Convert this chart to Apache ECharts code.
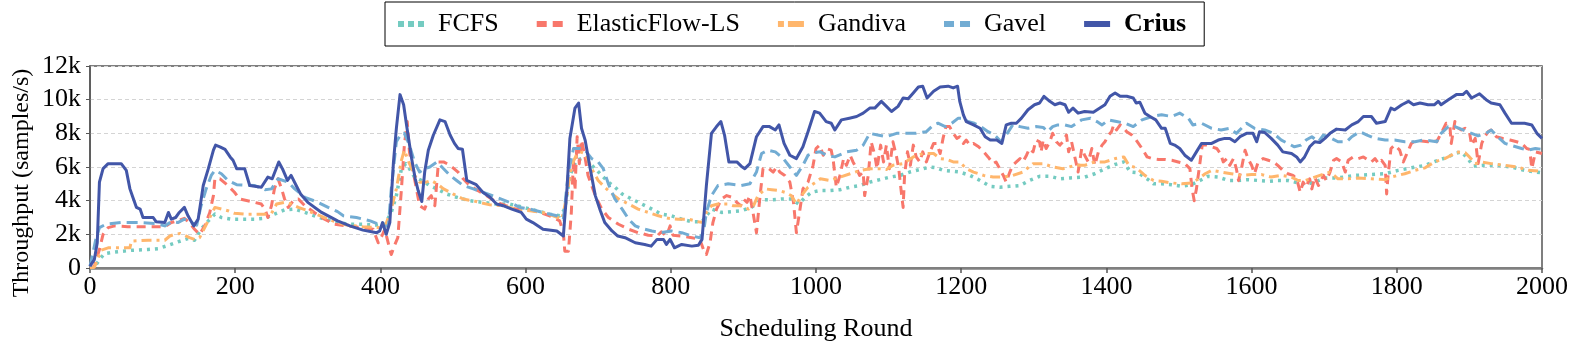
<!DOCTYPE html>
<html>
<head>
<meta charset="utf-8">
<script src="https://cdn.jsdelivr.net/npm/echarts@6/dist/echarts.min.js"></script>
<style>
html,body{margin:0;padding:0;background:#fff;}
#chart{width:1578px;height:354px;}
</style>
</head>
<body>
<div id="chart"></div>
<script>
// Throughput in thousands of samples/s, as [scheduling round, value]
const seriesNames = ['FCFS', 'ElasticFlow-LS', 'Gandiva', 'Gavel', 'Crius'];
const yTickLabels = ['0', '2k', '4k', '6k', '8k', '10k', '12k'];
const xTicks = [0, 200, 400, 600, 800, 1000, 1200, 1400, 1600, 1800, 2000];

const fcfs = [[0,0],[6,0.05],[15,0.6],[20,0.85],[34,0.95],[57,1.05],[80,1.1],[94,1.15],[108,1.35],[121,1.55],[135,1.75],[144,1.65],[153,2.3],[163,2.8],[172,3.2],[181,3.0],[195,2.9],[213,2.9],[227,2.9],[241,2.95],[254,3.2],[268,3.45],[282,3.5],[296,3.3],[309,3.1],[323,2.9],[341,2.75],[354,2.6],[376,2.6],[395,2.55],[406,2.6],[415,3.3],[422,4.3],[429,5.9],[435,6.2],[440,5.9],[447,5.4],[457,5.2],[468,4.9],[478,4.7],[491,4.4],[505,4.2],[523,4.0],[541,3.9],[560,3.8],[578,3.8],[597,3.6],[615,3.4],[633,3.2],[647,3.1],[654,3.5],[661,5.5],[670,6.4],[677,6.5],[686,6.3],[696,5.9],[705,5.5],[714,5.1],[723,4.8],[733,4.4],[746,4.1],[760,3.8],[774,3.5],[787,3.2],[801,3.1],[815,2.9],[829,2.75],[843,2.75],[849,3.1],[856,3.5],[870,3.3],[884,3.35],[897,3.4],[911,3.6],[925,4.05],[939,4.05],[953,4.1],[966,4.1],[976,3.8],[985,4.2],[994,4.5],[1005,4.6],[1019,4.6],[1033,4.65],[1047,4.8],[1061,4.9],[1074,5.1],[1088,5.25],[1102,5.4],[1116,5.5],[1129,5.7],[1143,5.85],[1157,6.0],[1166,5.95],[1175,5.8],[1187,5.75],[1198,5.7],[1212,5.5],[1226,5.2],[1240,4.85],[1253,4.8],[1267,4.85],[1281,4.9],[1294,5.2],[1308,5.45],[1322,5.45],[1336,5.3],[1350,5.35],[1370,5.4],[1384,5.6],[1398,5.9],[1412,6.15],[1424,6.3],[1433,5.7],[1444,5.65],[1456,5.3],[1465,5.0],[1476,5.0],[1490,4.95],[1504,4.85],[1517,4.95],[1529,5.2],[1540,5.45],[1554,5.4],[1568,5.2],[1581,5.2],[1595,5.25],[1609,5.2],[1623,5.15],[1636,5.2],[1650,5.2],[1664,5.05],[1673,4.95],[1687,5.1],[1701,5.35],[1719,5.35],[1742,5.5],[1765,5.55],[1784,5.6],[1802,5.8],[1820,5.95],[1839,6.1],[1857,6.4],[1871,6.6],[1880,6.8],[1889,6.9],[1898,6.5],[1905,6.05],[1921,6.1],[1939,6.1],[1958,6.0],[1976,5.8],[2000,5.65]];

const elasticFlow = [[0,0],[6,0.1],[13,1.1],[18,2.0],[25,2.4],[34,2.5],[52,2.45],[71,2.45],[89,2.45],[103,2.45],[112,2.7],[121,2.8],[130,2.95],[137,2.7],[144,2.3],[151,2.0],[158,2.5],[165,3.3],[170,4.3],[172,5.3],[179,5.3],[190,4.9],[199,4.5],[206,4.1],[222,3.95],[236,3.8],[241,3.5],[245,3.0],[250,3.7],[254,4.7],[259,5.3],[264,4.7],[268,4.1],[273,3.6],[280,4.0],[287,4.1],[296,3.7],[309,3.3],[323,2.9],[337,2.6],[354,2.5],[376,2.4],[390,2.3],[397,1.5],[402,1.9],[406,2.3],[413,1.1],[415,0.8],[420,1.4],[424,1.8],[429,4.7],[433,7.3],[437,8.7],[440,6.9],[447,5.3],[454,3.7],[461,3.5],[466,4.1],[470,4.3],[475,3.7],[480,6.3],[487,6.3],[496,6.1],[507,5.7],[514,5.3],[523,4.9],[534,4.6],[546,4.3],[560,3.9],[573,3.7],[587,3.5],[601,3.5],[620,3.3],[633,3.1],[647,2.8],[652,2.1],[654,1.0],[659,1.0],[663,3.3],[666,6.5],[668,4.6],[671,7.8],[674,6.2],[677,7.6],[681,6.8],[686,5.5],[696,4.3],[705,3.5],[714,3.0],[728,2.6],[742,2.3],[755,2.1],[769,1.95],[781,1.9],[787,2.15],[794,1.9],[799,2.5],[803,1.95],[815,1.9],[829,1.8],[840,1.7],[845,1.1],[849,0.8],[854,1.5],[858,2.7],[863,3.5],[870,4.1],[877,4.3],[884,4.2],[891,3.9],[896,3.7],[900,4.1],[905,3.9],[909,4.3],[914,3.1],[918,2.1],[923,4.3],[927,5.9],[934,5.95],[941,5.7],[946,6.0],[950,5.7],[957,5.5],[964,5.1],[969,3.9],[973,2.1],[978,3.5],[982,4.7],[989,5.1],[996,6.1],[1000,7.1],[1005,7.3],[1010,6.7],[1014,7.1],[1021,7.0],[1024,6.3],[1028,4.8],[1033,5.5],[1038,6.5],[1042,6.1],[1047,6.7],[1051,6.3],[1056,5.9],[1060,5.5],[1065,5.7],[1067,4.3],[1072,5.5],[1076,7.5],[1081,6.7],[1084,5.9],[1089,7.3],[1093,6.3],[1097,7.3],[1101,5.9],[1106,7.5],[1111,6.6],[1114,5.9],[1117,4.7],[1120,3.6],[1122,5.5],[1126,6.9],[1130,6.1],[1134,7.3],[1138,6.6],[1143,6.3],[1147,6.9],[1152,6.3],[1157,6.9],[1162,7.4],[1166,7.4],[1171,6.8],[1175,7.7],[1179,8.4],[1184,8.4],[1189,8.0],[1194,7.7],[1198,7.8],[1203,7.4],[1207,7.6],[1212,7.3],[1217,7.4],[1224,7.2],[1231,6.9],[1237,6.6],[1244,6.2],[1248,6.3],[1253,5.9],[1258,5.5],[1262,5.1],[1267,5.7],[1271,6.1],[1276,6.3],[1281,6.5],[1285,6.3],[1290,6.7],[1294,7.1],[1299,6.9],[1303,7.6],[1308,7.5],[1310,6.9],[1313,7.6],[1317,7.1],[1322,7.5],[1326,8.0],[1331,7.5],[1336,7.3],[1340,7.5],[1345,7.9],[1348,6.9],[1352,7.5],[1357,6.5],[1361,5.7],[1366,7.1],[1370,6.7],[1375,6.3],[1380,7.1],[1384,6.1],[1389,6.9],[1394,7.3],[1398,7.5],[1403,7.9],[1407,8.1],[1410,8.5],[1414,8.2],[1419,8.5],[1424,8.3],[1428,8.1],[1435,7.9],[1441,7.6],[1449,7.1],[1456,6.6],[1463,6.5],[1472,6.45],[1481,6.45],[1490,6.4],[1499,6.3],[1508,6.2],[1515,5.9],[1518,4.7],[1521,4.0],[1524,4.7],[1529,6.3],[1532,7.3],[1538,7.3],[1545,7.2],[1552,7.1],[1557,6.8],[1561,6.3],[1566,6.5],[1570,6.1],[1575,6.5],[1579,5.9],[1582,5.2],[1586,5.9],[1591,7.0],[1595,6.5],[1600,6.1],[1604,5.6],[1609,6.3],[1616,6.5],[1623,6.4],[1630,6.3],[1636,6.1],[1643,5.8],[1650,5.6],[1657,5.5],[1662,5.3],[1667,4.5],[1671,5.1],[1675,4.8],[1680,5.3],[1683,4.7],[1687,5.4],[1692,4.9],[1699,5.5],[1703,5.2],[1708,5.7],[1713,6.4],[1717,6.5],[1724,6.3],[1729,5.7],[1733,6.4],[1740,6.6],[1747,6.5],[1754,6.6],[1761,6.4],[1765,6.3],[1770,6.5],[1775,6.2],[1779,6.4],[1784,6.1],[1786,4.4],[1788,5.5],[1792,7.1],[1797,7.3],[1804,7.0],[1809,6.3],[1813,6.7],[1820,7.4],[1827,7.6],[1834,7.55],[1843,7.5],[1850,7.6],[1855,7.5],[1861,8.0],[1868,8.6],[1873,8.5],[1875,7.4],[1880,8.7],[1885,8.3],[1889,8.2],[1894,8.3],[1900,8.1],[1903,7.3],[1908,7.7],[1912,6.2],[1917,7.4],[1921,7.8],[1926,8.1],[1930,8.2],[1937,7.8],[1946,7.7],[1956,7.6],[1965,7.5],[1972,7.4],[1979,7.1],[1983,7.05],[1986,5.9],[1991,6.9],[2000,6.8]];

const gandiva = [[0,0],[6,0.05],[10,0.45],[15,1.05],[25,1.2],[43,1.2],[55,1.2],[57,1.6],[80,1.65],[103,1.65],[110,1.9],[117,2.0],[124,2.05],[130,1.95],[137,1.8],[144,1.7],[151,1.8],[158,2.4],[165,3.0],[172,3.6],[181,3.5],[190,3.4],[199,3.25],[213,3.2],[227,3.2],[241,3.2],[250,3.25],[257,3.8],[268,3.9],[277,3.8],[287,3.6],[300,3.4],[314,3.15],[328,2.9],[341,2.7],[354,2.55],[376,2.45],[395,2.4],[406,2.4],[415,3.5],[422,4.7],[429,6.4],[433,7.0],[439,6.3],[447,5.5],[454,5.1],[463,5.1],[470,5.2],[478,5.0],[487,4.7],[500,4.4],[514,4.1],[532,3.95],[551,3.75],[569,3.7],[587,3.5],[606,3.4],[624,3.3],[638,3.1],[650,2.9],[657,4.3],[663,6.1],[670,6.7],[675,6.9],[682,6.8],[691,5.9],[700,5.2],[709,4.8],[719,4.4],[728,4.1],[742,3.8],[755,3.5],[769,3.3],[783,3.1],[797,2.95],[810,2.9],[824,2.9],[838,2.75],[845,2.7],[849,3.3],[856,3.7],[865,3.8],[879,3.8],[886,3.7],[897,3.7],[907,3.5],[914,3.7],[920,4.3],[930,4.7],[939,4.65],[949,4.6],[957,4.5],[966,4.3],[973,3.8],[980,4.3],[989,4.8],[998,5.05],[1006,5.3],[1019,5.2],[1033,5.4],[1047,5.6],[1061,5.8],[1074,5.9],[1088,5.9],[1097,5.85],[1106,6.1],[1120,6.2],[1134,6.6],[1147,6.8],[1162,6.8],[1171,6.5],[1180,6.45],[1189,6.3],[1198,6.3],[1207,5.9],[1217,5.7],[1231,5.5],[1244,5.4],[1258,5.4],[1271,5.5],[1285,5.7],[1299,6.2],[1313,6.2],[1326,6.0],[1340,5.9],[1357,6.1],[1370,6.1],[1384,6.3],[1398,6.3],[1412,6.5],[1424,6.6],[1431,6.1],[1441,5.95],[1453,5.5],[1465,5.2],[1476,5.15],[1490,5.05],[1504,5.0],[1517,5.05],[1527,5.3],[1536,5.6],[1545,5.8],[1558,5.7],[1572,5.6],[1586,5.5],[1600,5.55],[1614,5.55],[1627,5.4],[1641,5.5],[1655,5.4],[1664,5.2],[1674,5.2],[1687,5.4],[1701,5.6],[1708,5.7],[1719,5.3],[1733,5.3],[1747,5.35],[1765,5.3],[1784,5.25],[1792,5.4],[1811,5.6],[1825,5.8],[1839,5.95],[1852,6.3],[1866,6.5],[1875,6.7],[1882,6.9],[1894,6.85],[1900,6.6],[1908,6.2],[1917,6.3],[1930,6.2],[1949,6.1],[1967,6.0],[1981,5.8],[2000,5.75]];

const gavel = [[0,0.1],[8,1.7],[13,2.4],[22,2.6],[43,2.7],[66,2.7],[89,2.65],[103,2.5],[112,2.75],[121,2.7],[130,2.9],[140,2.7],[147,2.55],[153,3.7],[160,4.7],[167,5.5],[172,5.8],[181,5.6],[190,5.2],[202,4.95],[227,4.9],[241,4.65],[250,4.7],[259,5.3],[273,5.1],[282,4.7],[296,4.2],[314,3.9],[328,3.6],[341,3.35],[349,3.1],[367,3.0],[386,2.8],[397,2.6],[404,2.5],[411,2.5],[415,4.7],[422,7.5],[429,8.0],[433,8.0],[440,7.3],[447,6.3],[454,5.7],[461,5.9],[468,6.0],[478,6.3],[487,5.9],[496,5.5],[505,5.2],[514,4.9],[528,4.7],[541,4.5],[560,4.2],[578,3.9],[592,3.6],[606,3.5],[624,3.3],[643,3.1],[652,2.9],[659,5.7],[666,7.1],[675,7.1],[682,7.0],[691,6.5],[700,6.3],[707,5.9],[714,5.0],[723,4.1],[733,3.5],[742,2.9],[751,2.5],[760,2.35],[774,2.2],[787,2.1],[801,2.2],[815,2.1],[829,1.9],[840,1.8],[845,2.1],[849,3.3],[856,4.3],[865,4.9],[879,5.0],[897,4.9],[909,5.0],[918,5.7],[925,6.8],[934,7.0],[944,6.9],[955,6.5],[964,6.0],[973,5.5],[982,6.1],[989,6.7],[998,6.85],[1006,6.9],[1014,6.7],[1026,6.6],[1042,6.9],[1056,7.0],[1065,7.3],[1074,8.0],[1085,7.9],[1097,7.8],[1111,8.0],[1125,8.0],[1138,8.0],[1152,8.1],[1162,8.5],[1168,8.6],[1178,8.4],[1187,8.6],[1196,8.9],[1203,8.9],[1209,8.7],[1218,8.6],[1227,8.4],[1237,8.1],[1246,7.9],[1255,7.5],[1262,7.9],[1271,8.5],[1281,8.4],[1292,8.3],[1303,8.4],[1313,8.35],[1319,8.1],[1326,8.4],[1333,8.5],[1343,8.5],[1352,8.4],[1366,8.8],[1378,8.9],[1387,8.7],[1394,8.5],[1403,8.8],[1414,8.7],[1426,8.6],[1437,8.4],[1449,8.8],[1463,9.0],[1476,9.1],[1490,9.0],[1501,9.2],[1513,8.9],[1519,8.5],[1531,8.6],[1545,8.3],[1558,8.2],[1570,8.3],[1579,8.0],[1593,8.6],[1604,8.3],[1618,8.2],[1630,8.0],[1641,7.6],[1650,7.4],[1659,7.2],[1668,7.3],[1675,7.6],[1683,7.8],[1692,7.5],[1699,7.9],[1710,7.7],[1719,7.5],[1731,7.5],[1738,7.8],[1749,8.1],[1759,7.9],[1770,7.7],[1784,7.6],[1797,7.6],[1811,7.5],[1825,7.5],[1837,7.6],[1848,7.55],[1855,7.5],[1861,8.0],[1871,8.4],[1880,8.4],[1891,8.2],[1903,8.0],[1912,7.85],[1923,8.0],[1930,8.2],[1939,7.8],[1949,7.4],[1960,7.25],[1972,7.1],[1981,7.0],[1991,7.1],[2000,7.05]];

const crius = [[0,0.1],[2,0.25],[6,0.5],[10,1.5],[13,5.1],[18,5.9],[25,6.2],[43,6.2],[50,5.8],[55,4.7],[59,4.2],[64,3.6],[69,3.5],[73,3.0],[80,3.0],[87,3.0],[91,2.75],[103,2.7],[108,3.3],[112,2.9],[118,3.0],[123,3.3],[130,3.6],[135,3.1],[143,2.5],[149,2.9],[156,4.9],[163,5.9],[170,7.0],[173,7.3],[179,7.2],[186,7.05],[193,6.6],[197,6.4],[202,5.9],[213,5.9],[220,4.9],[236,4.8],[245,5.4],[251,5.3],[260,6.3],[265,5.9],[272,5.2],[277,5.5],[284,4.9],[290,4.4],[300,3.9],[319,3.3],[341,2.8],[358,2.5],[376,2.25],[395,2.1],[399,2.2],[403,2.7],[408,2.0],[413,2.7],[418,6.3],[422,8.3],[427,10.3],[432,9.7],[436,8.5],[443,6.5],[448,5.3],[452,4.6],[457,3.95],[461,5.7],[466,7.0],[473,7.9],[482,8.8],[489,8.7],[496,7.9],[502,7.4],[507,7.1],[513,7.05],[519,5.2],[532,4.95],[541,4.5],[551,4.2],[560,3.8],[569,3.7],[581,3.5],[594,3.3],[601,2.9],[610,2.7],[624,2.3],[643,2.2],[652,1.9],[657,4.7],[661,7.7],[668,9.5],[673,9.8],[677,8.3],[682,7.6],[689,5.9],[696,4.3],[703,3.4],[709,2.7],[719,2.2],[727,1.9],[737,1.8],[751,1.5],[764,1.4],[773,1.3],[781,1.7],[790,1.7],[794,1.4],[799,1.7],[805,1.2],[815,1.4],[829,1.3],[838,1.35],[843,1.7],[849,4.9],[856,8.0],[863,8.4],[869,8.7],[874,7.9],[880,6.3],[891,6.3],[897,6.05],[902,5.9],[909,6.2],[918,7.8],[927,8.4],[936,8.4],[944,8.2],[949,8.5],[956,7.4],[964,6.7],[973,6.5],[982,7.2],[989,8.1],[998,9.3],[1005,9.2],[1014,8.7],[1021,8.6],[1026,8.2],[1035,8.8],[1046,8.9],[1056,9.0],[1065,9.2],[1074,9.5],[1081,9.5],[1090,9.9],[1097,9.6],[1104,9.3],[1113,9.6],[1120,10.1],[1127,10.05],[1134,10.4],[1141,10.75],[1147,10.8],[1153,10.1],[1162,10.5],[1171,10.75],[1182,10.8],[1189,10.7],[1195,10.8],[1198,9.9],[1203,9.1],[1207,8.7],[1217,8.5],[1226,8.3],[1233,7.8],[1240,7.6],[1249,7.6],[1256,7.4],[1262,8.5],[1269,8.6],[1276,8.6],[1283,8.9],[1292,9.4],[1301,9.7],[1308,9.8],[1314,10.2],[1322,9.9],[1329,9.7],[1336,9.8],[1343,9.7],[1348,9.25],[1354,9.5],[1361,9.2],[1370,9.3],[1382,9.25],[1391,9.5],[1398,9.7],[1405,10.2],[1412,10.4],[1419,10.2],[1428,10.2],[1437,10.1],[1441,9.8],[1446,9.85],[1453,9.2],[1460,9.0],[1468,8.8],[1476,8.3],[1481,8.3],[1488,7.4],[1494,7.3],[1501,7.1],[1508,6.7],[1517,6.4],[1524,6.9],[1531,7.4],[1545,7.4],[1554,7.6],[1563,7.7],[1570,7.7],[1577,7.5],[1584,7.8],[1593,8.0],[1602,8.0],[1607,7.5],[1611,8.1],[1618,8.05],[1627,7.7],[1636,7.3],[1643,6.9],[1655,6.8],[1662,6.6],[1667,6.3],[1673,6.6],[1680,7.2],[1687,7.5],[1694,7.45],[1701,7.7],[1708,8.0],[1717,8.25],[1729,8.2],[1738,8.5],[1747,8.7],[1754,9.0],[1765,9.0],[1772,8.6],[1784,8.7],[1792,9.5],[1797,9.4],[1807,9.7],[1816,9.9],[1823,9.7],[1832,9.8],[1843,9.7],[1852,9.7],[1857,9.9],[1861,9.7],[1871,10.0],[1882,10.3],[1891,10.3],[1896,10.5],[1903,10.1],[1914,10.35],[1923,10.0],[1930,9.8],[1942,9.7],[1949,9.2],[1958,8.6],[1967,8.6],[1976,8.6],[1986,8.5],[1993,8.0],[2000,7.7]];

const serif = '"Liberation Serif", "Times New Roman", serif';
const colors = {
  'FCFS': '#74cbc1',
  'ElasticFlow-LS': '#f8776b',
  'Gandiva': '#ffb66c',
  'Gavel': '#72acd3',
  'Crius': '#4256a8'
};
const styles = {
  'FCFS': { width: 3.5, type: [3, 5] },
  'ElasticFlow-LS': { width: 3, type: [9, 6] },
  'Gandiva': { width: 3, type: [10, 5, 3, 5] },
  'Gavel': { width: 3, type: [11, 6] },
  'Crius': { width: 3, type: 'solid' }
};
// legend swatches mimicking each line pattern (26 x 6 box)
const legendIcons = {
  'FCFS': 'path://M0,0H6V6H0Z M10,0H16V6H10Z M20,0H26V6H20Z',
  'ElasticFlow-LS': 'path://M0,0H10V6H0Z M16,0H26V6H16Z',
  'Gandiva': 'path://M0,0H6V6H0Z M10,0H26V6H10Z',
  'Gavel': 'path://M0,0H10V6H0Z M16,0H26V6H16Z',
  'Crius': 'path://M0,0H26V6H0Z'
};
const dataByName = {
  'FCFS': fcfs, 'ElasticFlow-LS': elasticFlow, 'Gandiva': gandiva, 'Gavel': gavel, 'Crius': crius
};

const chart = echarts.init(document.getElementById('chart'), null, { renderer: 'canvas' });
chart.setOption({
  animation: false,
  backgroundColor: '#fff',
  legend: {
    left: 385, top: 2,
    padding: [9, 18, 9, 13],
    borderColor: '#000', borderWidth: 1,
    itemWidth: 26, itemHeight: 6, itemGap: 38,
    textStyle: { fontFamily: serif, fontSize: 26, color: '#000', padding: [0, 0, 0, 9] },
    data: seriesNames.map(n => ({
      name: n,
      icon: legendIcons[n],
      itemStyle: { color: colors[n] },
      textStyle: n === 'Crius' ? { fontWeight: 'bold' } : {}
    }))
  },
  grid: {
    left: 90, right: 36, top: 66, bottom: 86,
    show: true, borderColor: '#555', borderWidth: 1.5
  },
  xAxis: {
    type: 'value', min: 0, max: 2000, interval: 200,
    name: 'Scheduling Round', nameLocation: 'middle', nameGap: 48,
    nameTextStyle: { fontFamily: serif, fontSize: 26, color: '#000' },
    axisLine: { show: true, lineStyle: { color: '#808080', width: 2.5 } },
    axisTick: { show: true, length: 5, lineStyle: { color: '#555', width: 1.5 } },
    axisLabel: { fontFamily: serif, fontSize: 26, color: '#000', margin: 6, formatter: v => String(v) },
    splitLine: { show: false }
  },
  yAxis: {
    type: 'value', min: 0, max: 12, interval: 2,
    axisLine: { show: true, lineStyle: { color: '#555', width: 1.5 } },
    axisTick: { show: true, length: 4, lineStyle: { color: '#555' } },
    axisLabel: {
      fontFamily: serif, fontSize: 26, color: '#000', margin: 9,
      formatter: v => yTickLabels[Math.round(v / 2)]
    },
    splitLine: { show: true, lineStyle: { color: '#d4d4d4', type: [4, 3], width: 1 } }
  },
  graphic: [{
    type: 'text', x: 22, y: 183, rotation: Math.PI / 2,
    style: {
      text: 'Throughput (samples/s)', fontFamily: serif, fontSize: 24,
      fill: '#000', align: 'center', verticalAlign: 'middle'
    }
  }],
  series: seriesNames.map(n => ({
    name: n, type: 'line', data: dataByName[n],
    symbol: 'none', showSymbol: false, smooth: false,
    color: colors[n],
    lineStyle: { color: colors[n], width: styles[n].width, type: styles[n].type, cap: 'butt', join: 'round' },
    z: n === 'Crius' ? 5 : 2
  }))
});
</script>
</body>
</html>
